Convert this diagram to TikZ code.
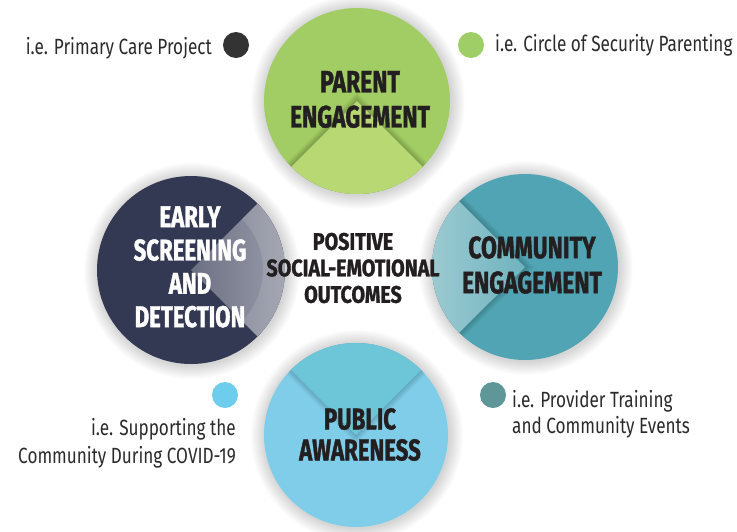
\documentclass[tikz,border=0pt]{standalone}
\usepackage{fontspec}
\setmainfont{Fira Sans}
\newfontfamily\headfont[FakeStretch=0.74,FakeBold=1.2]{Fira Sans}
\newfontfamily\centerfont[FakeStretch=0.82,FakeBold=1.2]{Fira Sans}
\newfontfamily\bodyfont[FakeStretch=0.78]{Fira Sans}
\definecolor{pgreen}{HTML}{A1CD64}
\definecolor{pgreenL}{HTML}{B8D874}
\definecolor{pnavy}{HTML}{343953}
\definecolor{pnavyA}{HTML}{6C7083}
\definecolor{pnavyB}{HTML}{9EA1AE}
\definecolor{pteal}{HTML}{50A4B3}
\definecolor{ptealA}{HTML}{6FB3BF}
\definecolor{ptealB}{HTML}{A2CDD3}
\definecolor{pblue}{HTML}{80CDEA}
\definecolor{pblueD}{HTML}{6CC6D8}
\definecolor{dotdark}{HTML}{333333}
\definecolor{dotgreen}{HTML}{9FCD66}
\definecolor{dotblue}{HTML}{6ECCEC}
\definecolor{dotteal}{HTML}{5F9798}
\definecolor{ink}{HTML}{231F20}
\definecolor{labelink}{HTML}{2B2B2B}
\tikzset{
  bigcircle/.style={circle, inner sep=0pt, minimum size=#1},
  headtext/.style={align=center, text=ink, font=\headfont\bfseries\fontsize{31}{35}\selectfont, inner sep=0pt},
  centertext/.style={align=center, text=ink, font=\centerfont\bfseries\fontsize{24}{26.5}\selectfont, inner sep=0pt},
  labeltext/.style={text=labelink, font=\bodyfont\fontsize{22}{27}\selectfont, inner sep=0pt},
  dotnode/.style={circle, inner sep=0pt, minimum size=26pt, fill=#1},
}
\begin{document}
\begin{tikzpicture}[x=1pt,y=1pt]
\useasboundingbox (0,0) rectangle (737,-531);
\fill[white] (0,0) rectangle (737,-531);
% soft shadows
\foreach \cx/\cy/\r in {357/-101/93, 191/-270/94, 525/-267/93, 356/-435/92}{
  \foreach \k in {1,...,14}{
    \fill[black, opacity=0.012] (\cx+1,\cy-1) circle (\r+\k);
  }
}
% top circle: parent engagement
\node[bigcircle=186pt, fill=pgreen] (pe) at (357,-101) {};
\begin{scope}
  \clip (pe.center) circle (93);
  \foreach \k in {1,...,9}{
    \fill[black, opacity=0.022] ([yshift=\k pt]pe.center) -- ++(225:150) -- ++(0:212.1) -- cycle;
  }
  \fill[pgreenL] (pe.center) -- ++(225:150) -- ++(0:212.1) -- cycle;
\end{scope}
% left circle: early screening
\node[bigcircle=188pt, fill=pnavy] (es) at (191,-270) {};
\begin{scope}
  \clip (es.center) circle (94);
  \clip (es.center) -- ++(45:150) -- ++(-90:212.1) -- cycle;
  \shade[left color=pnavyA, right color=pnavyB] (es.center) -- ++(45:150) -- ++(-90:212.1) -- cycle;
  \fill[white, opacity=0.12, even odd rule] (es.center) circle (94) (es.center) circle (72);
\end{scope}
% right circle: community engagement
\node[bigcircle=186pt, fill=pteal] (ce) at (525,-267) {};
\begin{scope}
  \clip (ce.center) circle (93);
  \foreach \k in {1,...,9}{
    \fill[black, opacity=0.02] ([xshift=\k pt]ce.center) -- ++(135:150) -- ++(-90:212.1) -- cycle;
  }
  \shade[left color=ptealB, right color=ptealA] (ce.center) -- ++(135:150) -- ++(-90:212.1) -- cycle;
\end{scope}
% bottom circle: public awareness
\node[bigcircle=184pt, fill=pblue] (pa) at (356,-435) {};
\begin{scope}
  \clip (pa.center) circle (92);
  \foreach \k in {1,...,9}{
    \fill[black, opacity=0.018] ([yshift=-\k pt]pa.center) -- ++(45:150) -- ++(180:212.1) -- cycle;
  }
  \fill[pblueD] (pa.center) -- ++(45:150) -- ++(180:212.1) -- cycle;
\end{scope}
% texts
\node[headtext] (pet) at (360,-99.5) {PARENT\\ENGAGEMENT};
\node[headtext, text=white, font=\headfont\bfseries\fontsize{30}{33.3}\selectfont] (est) at (190,-267) {EARLY\\SCREENING\\AND\\DETECTION};
\node[headtext] (cet) at (532,-265) {COMMUNITY\\ENGAGEMENT};
\node[headtext, font=\headfont\bfseries\fontsize{30}{31}\selectfont] (pat) at (360,-434.5) {PUBLIC\\AWARENESS};
\node[centertext] (center) at (353,-268) {POSITIVE\\SOCIAL-EMOTIONAL\\OUTCOMES};
% examples
\node[dotnode=dotdark] (d1) at (236,-45) {};
\node[labeltext, anchor=base east] (l1) at (212,-54) {i.e. Primary Care Project};
\node[dotnode=dotgreen] (d2) at (471,-45) {};
\node[labeltext, anchor=base west] (l2) at (495,-51) {i.e. Circle of Security Parenting};
\node[dotnode=dotblue] (d3) at (225,-395) {};
\node[labeltext, anchor=base east] (l3a) at (236,-435) {i.e. Supporting the};
\node[labeltext, anchor=base east] (l3b) at (236,-463) {Community During COVID-19};
\node[dotnode=dotteal] (d4) at (493,-395) {};
\node[labeltext, anchor=base west] (l4a) at (512,-407) {i.e. Provider Training};
\node[labeltext, anchor=base west] (l4b) at (512,-433) {and Community Events};
\end{tikzpicture}
\end{document}
